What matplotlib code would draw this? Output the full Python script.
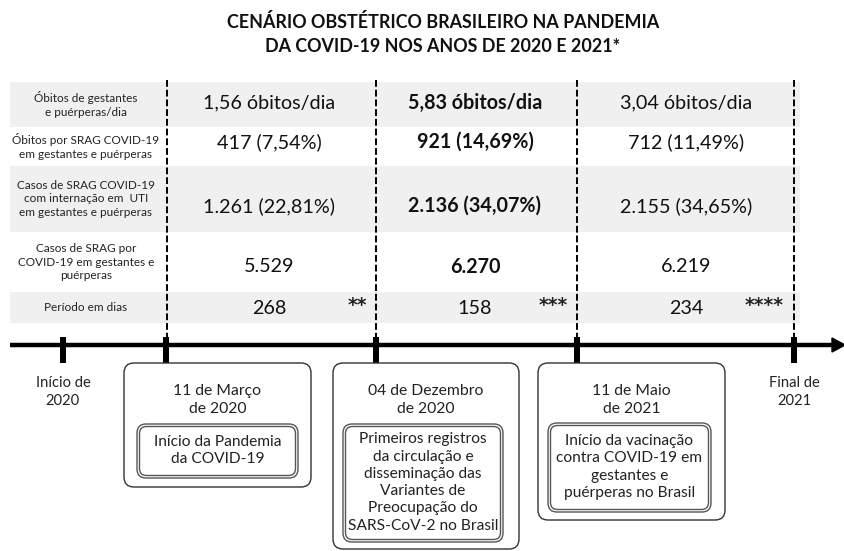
import matplotlib
matplotlib.use("Agg")
import matplotlib.pyplot as plt
from matplotlib.patches import Rectangle, FancyBboxPatch, Polygon

# ---------------- data ----------------
title_lines = ["CENÁRIO OBSTÉTRICO BRASILEIRO NA PANDEMIA",
               "DA COVID-19 NOS ANOS DE 2020 E 2021*"]
row_labels = [
    "Óbitos de gestantes\ne puérperas/dia",
    "Óbitos por SRAG COVID-19\nem gestantes e puérperas",
    "Casos de SRAG COVID-19\ncom internação em  UTI\nem gestantes e puérperas",
    "Casos de SRAG por\nCOVID-19 em gestantes e\npuérperas",
    "Período em dias",
]
period1 = ["1,56 óbitos/dia", "417 (7,54%)", "1.261 (22,81%)", "5.529", "268"]
period2 = ["5,83 óbitos/dia", "921 (14,69%)", "2.136 (34,07%)", "6.270", "158"]
period3 = ["3,04 óbitos/dia", "712 (11,49%)", "2.155 (34,65%)", "6.219", "234"]
period_stars = ["**", "***", "****"]
bold1 = [False, False, False, False, False]
bold2 = [True, True, True, True, False]
bold3 = [False, False, False, False, False]

edge_labels = ["Início de\n2020", "Final de\n2021"]
event_dates = ["11 de Março\nde 2020", "04 de Dezembro\nde 2020", "11 de Maio\nde 2021"]
event_texts = ["Início da Pandemia\nda COVID-19",
               "Primeiros registros\nda circulação e\ndisseminação das\nVariantes de\nPreocupação do\nSARS-CoV-2 no Brasil",
               "Início da vacinação\ncontra COVID-19 em\ngestantes e\npuérperas no Brasil"]

# ---------------- layout ----------------
FONT = ["Lato", "DejaVu Sans"]
plt.rcParams["font.family"] = FONT

fig = plt.figure(figsize=(8.45, 5.51), dpi=100)
ax = fig.add_axes([0, 0, 1, 1])
ax.set_xlim(0, 845)
ax.set_ylim(551, 0)
ax.axis("off")

# title
ax.text(443, 22, title_lines[0], ha="center", va="center", fontsize=12.9,
        fontweight="bold", color="#111111")
ax.text(443, 47, title_lines[1], ha="center", va="center", fontsize=12.9,
        fontweight="bold", color="#111111")

# table rows
row_edges = [82, 127, 166, 232, 292, 323]
for i in range(len(row_labels)):
    y0, y1 = row_edges[i], row_edges[i + 1]
    if i % 2 == 0:
        ax.add_patch(Rectangle((10, y0), 790, y1 - y0, facecolor="#f0f0f0",
                               edgecolor="none", zorder=0))
    yc = (y0 + y1) / 2
    ax.text(86, yc, row_labels[i], ha="center", va="center", fontsize=8.5,
            color="#222222", linespacing=1.28)

label_y = [103, 142, 206, 267, 309]
col_x = [269, 475, 686]
star_x = [357, 553, 764]
for c, (vals, bolds) in enumerate([(period1, bold1), (period2, bold2),
                                    (period3, bold3)]):
    for r, v in enumerate(vals):
        ax.text(col_x[c], label_y[r], v, ha="center", va="center",
                fontsize=14.2, color="#111111",
                fontweight="bold" if bolds[r] else "normal")
    ax.text(star_x[c], 305, period_stars[c], ha="center", va="center",
            fontsize=13.5, color="#222222", family="DejaVu Sans",
            fontweight="bold")

# timeline
tick_x = [63, 166, 376, 577, 794]
line_y = 345
ax.plot([10, 836], [line_y, line_y], color="black", lw=3.2,
        solid_capstyle="butt", zorder=3)
ax.add_patch(Polygon([[832, line_y - 7], [845, line_y], [832, line_y + 7]],
                     closed=True, facecolor="black", edgecolor="black", zorder=3))
for x in tick_x:
    ax.add_patch(Rectangle((x - 3, 337), 6, 26, facecolor="black",
                           edgecolor="none", zorder=4))
for x in tick_x[1:]:
    xx = x + 1 if x == 166 else x
    ax.plot([xx, xx], [80, 337], color="black", lw=1.4, ls=(0, (3.5, 1.5)),
            zorder=2)

# edge labels
ax.text(63, 392, edge_labels[0], ha="center", va="center", fontsize=10.6,
        color="#222222", linespacing=1.35)
ax.text(794, 392, edge_labels[1], ha="center", va="center", fontsize=10.6,
        color="#222222", linespacing=1.35)

# event boxes
outer = [(124, 363, 311, 487), (333, 363, 519, 549), (538, 363, 725, 520)]
inner = [(137, 424, 298, 478), (343, 424, 503, 542), (548, 423, 711, 512)]


def rbox(x0, y0, x1, y1, lw=1.0, color="#444444", r=9):
    p = FancyBboxPatch((x0, y0), x1 - x0, y1 - y0,
                       boxstyle=f"round,pad=0,rounding_size={r}",
                       facecolor="white", edgecolor=color, lw=lw, zorder=5)
    ax.add_patch(p)


for k in range(3):
    ox0, oy0, ox1, oy1 = outer[k]
    rbox(ox0, oy0, ox1, oy1, lw=1.0, color="#333333", r=10)
    cx = (ox0 + ox1) / 2
    ax.text(cx, 400, event_dates[k], ha="center", va="center", fontsize=11.3,
            color="#222222", linespacing=1.3, zorder=6)
    ix0, iy0, ix1, iy1 = inner[k]
    rbox(ix0, iy0, ix1, iy1, lw=1.0, color="#555555", r=9)
    rbox(ix0 + 2.5, iy0 + 2.5, ix1 - 2.5, iy1 - 2.5, lw=1.0, color="#555555", r=7)
    ax.text((ix0 + ix1) / 2, (iy0 + iy1) / 2 - 0.5, event_texts[k], ha="center",
            va="center", fontsize=11.2, color="#222222", linespacing=1.3,
            zorder=7)

fig.savefig("out.png", dpi=100, facecolor="white")
